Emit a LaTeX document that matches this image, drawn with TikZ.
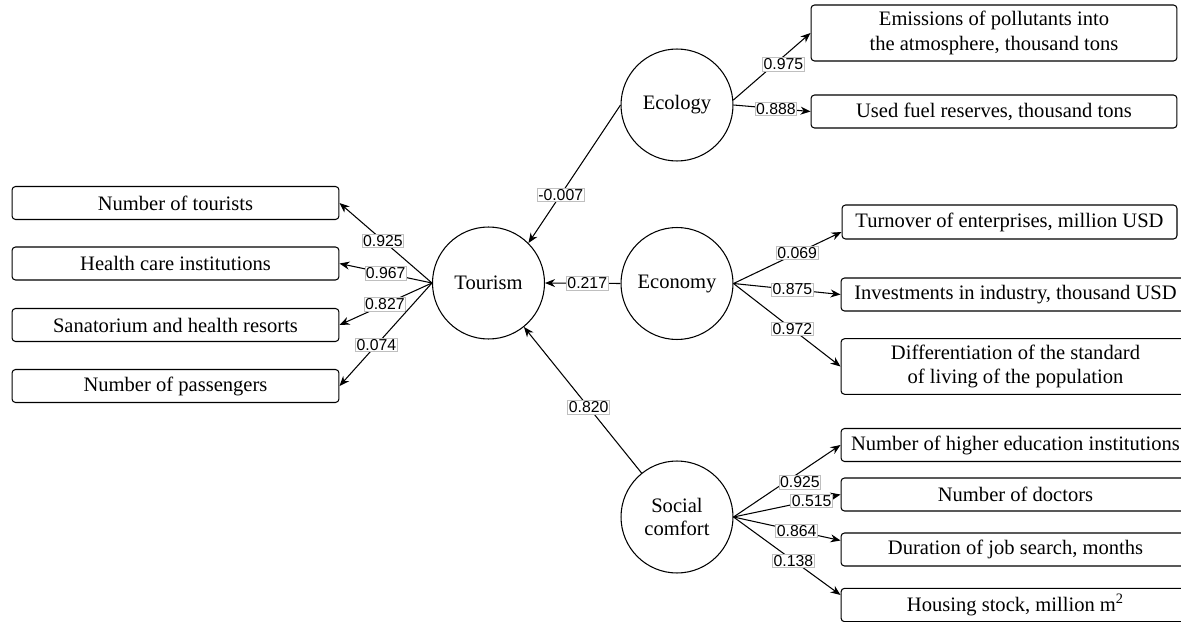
\documentclass[tikz,border=0pt]{standalone}
\usepackage{fontspec}
\setmainfont{Liberation Serif}
\newfontfamily\numfont{Liberation Sans}
\usetikzlibrary{arrows.meta}
\begin{document}
\begin{tikzpicture}[x=0.02cm,y=-0.02cm,
 factor/.style={circle,draw,line width=0.6pt,minimum size=2.24cm,inner sep=0pt,align=center,font=\fontsize{11.7}{13.5}\selectfont},
 indicator/.style={draw,line width=0.6pt,rounded corners=2pt,minimum height=0.66cm,align=center,font=\fontsize{11.7}{14.2}\selectfont},
 load/.style={fill=white,draw=black!25,line width=0.4pt,inner sep=0.6pt,font=\numfont\fontsize{9}{10}\selectfont},
 link/.style={line width=0.6pt,-{Stealth[length=2mm,width=1.6mm]}}]
\useasboundingbox (0,0) rectangle (1181,622);
\node[factor] (tourism) at (488.5,283) {Tourism};
\node[factor] (ecology) at (677,105) {Ecology};
\node[factor] (economy) at (677,283.5) {Economy};
\node[factor] (social) at (677,517) {Social\\comfort};
\node[indicator,minimum width=6.54cm] (tourists) at (175.5,203) {Number of tourists};
\node[indicator,minimum width=6.54cm] (health) at (175.5,263.5) {Health care institutions};
\node[indicator,minimum width=6.54cm] (sanatorium) at (175.5,325) {Sanatorium and health resorts};
\node[indicator,minimum width=6.54cm] (passengers) at (175.5,386) {Number of passengers};
\node[indicator,minimum width=7.32cm,minimum height=1.12cm] (emissions) at (994,33) {Emissions of pollutants into\\the atmosphere, thousand tons};
\node[indicator,minimum width=7.32cm] (fuel) at (994,111.5) {Used fuel reserves, thousand tons};
\node[indicator,minimum width=6.7cm,minimum height=0.68cm] (turnover) at (1009.5,222) {Turnover of enterprises, million USD};
\node[indicator,minimum width=6.98cm] (investments) at (1015.5,294.5) {Investments in industry, thousand USD};
\node[indicator,minimum width=6.98cm,minimum height=1.1cm] (living) at (1015.5,366.5) {Differentiation of the standard\\of living of the population};
\node[indicator,minimum width=6.98cm] (education) at (1015.5,445) {Number of higher education institutions};
\node[indicator,minimum width=6.98cm] (doctors) at (1015.5,494.5) {Number of doctors};
\node[indicator,minimum width=6.98cm] (jobsearch) at (1015.5,549.5) {Duration of job search, months};
\node[indicator,minimum width=6.98cm,minimum height=0.64cm] (housing) at (1015.5,605) {Housing stock, million m\textsuperscript{2}};
\draw[link] (tourism.west) -- node[load,pos=0.53] {0.925} (tourists.east);
\draw[link] (tourism.west) -- node[load,pos=0.5] {0.967} (health.east);
\draw[link] (tourism.west) -- node[load,pos=0.51] {0.827} (sanatorium.east);
\draw[link] (tourism.west) -- node[load,pos=0.6] {0.074} (passengers.east);
\draw[link] (ecology.west) -- node[load,pos=0.65] {-0.007} (tourism.45);
\draw[link] (economy.west) -- node[load,pos=0.44] {0.217} (tourism.east);
\draw[link] (social) -- node[load,pos=0.45] {0.820} (tourism);
\draw[link] (ecology.5) -- node[load,pos=0.65,yshift=-0.16cm] {0.975} (emissions.west);
\draw[link] (ecology.east) -- node[load,pos=0.55] {0.888} (fuel.west);
\draw[link] (economy.east) -- node[load,pos=0.59] {0.069} ([yshift=-0.2cm]turnover.west);
\draw[link] (economy.east) -- node[load,pos=0.55] {0.875} (investments.west);
\draw[link] (economy.east) -- node[load,pos=0.55] {0.972} (living.west);
\draw[link] (social.east) -- node[load,pos=0.62,yshift=-0.2cm] {0.925} (education.west);
\draw[link] (social.east) -- node[load,pos=0.73] {0.515} (doctors.west);
\draw[link] (social.east) -- node[load,pos=0.59] {0.864} ([yshift=0.18cm]jobsearch.west);
\draw[link] (social.east) -- node[load,pos=0.56] {0.138} ([yshift=0.2cm]housing.west);
\end{tikzpicture}
\end{document}
